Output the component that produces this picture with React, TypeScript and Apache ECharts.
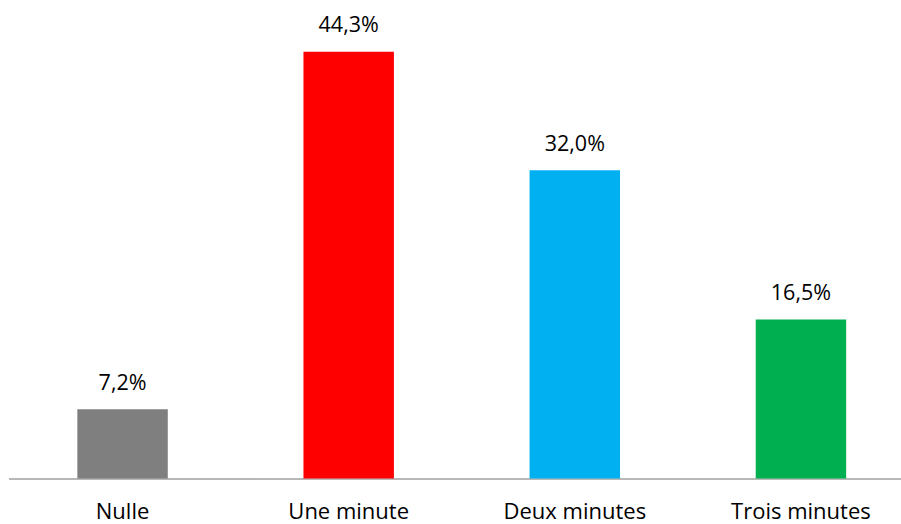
import React, { useEffect, useRef } from "react";
import * as echarts from "echarts";

const categories = ["Nulle", "Une minute", "Deux minutes", "Trois minutes"];
const values = [7.2, 44.3, 32.0, 16.5];
const barColors = ["#7f7f7f", "#ff0000", "#00b0f0", "#00b050"];

const FONT = "'Open Sans', 'Liberation Sans', sans-serif";

export default function App() {
  const ref = useRef<HTMLDivElement>(null);

  useEffect(() => {
    if (!ref.current) return;
    const chart = echarts.init(ref.current, null, { renderer: "svg" });
    chart.setOption({
      animation: false,
      backgroundColor: "#ffffff",
      grid: { left: 9.5, right: 0, top: 16, bottom: 45.5, containLabel: false },
      xAxis: {
        type: "category",
        data: categories,
        axisLine: { show: true, lineStyle: { color: "#a0a0a0", width: 1.5 } },
        axisTick: { show: false },
        axisLabel: {
          color: "#000000",
          fontFamily: FONT,
          fontSize: 22,
          lineHeight: 20,
          margin: 21,
        },
      },
      yAxis: {
        type: "value",
        min: 0,
        max: 48,
        show: false,
        splitLine: { show: false },
      },
      series: [
        {
          type: "bar",
          barWidth: "40%",
          data: values.map((v, i) => ({ value: v, itemStyle: { color: barColors[i] } })),
          label: {
            show: true,
            position: "top",
            distance: 17,
            color: "#000000",
            fontFamily: FONT,
            fontSize: 21.5,
            formatter: (p: any) => p.value.toFixed(1).replace(".", ",") + "%",
          },
        },
      ],
    });
    return () => chart.dispose();
  }, []);

  // The plot runs a little past the right edge of the page, so the last
  // category is clipped the same way the axis line is.
  return (
    <div
      style={{ position: "fixed", left: 0, top: 0, width: 901, height: 524, overflow: "hidden" }}
    >
      <div ref={ref} style={{ width: 914, height: 524 }} />
    </div>
  );
}
